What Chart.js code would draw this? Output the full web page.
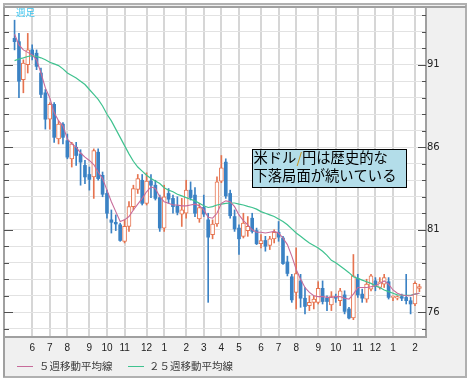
<!DOCTYPE html>
<html><head><meta charset="utf-8">
<script src="https://cdn.jsdelivr.net/npm/chart.js@4.4.0/dist/chart.umd.min.js"></script>
<style>html,body{margin:0;padding:0;background:#fff;}canvas{display:block;}</style>
</head><body>
<canvas id="c" width="469" height="382"></canvas>
<script>
// ---- data (weekly candles) ----
const opens = [
 92.6,92.4,90.1,91.0,91.9,91.7,90.5,89.3,87.7,88.6,
 86.5,87.4,86.4,85.3,86.0,85.6,84.9,84.35,84.2,85.7,
 84.3,83.2,81.6,81.45,81.3,80.3,81.2,82.4,83.45,84.0,
 82.6,83.95,83.7,82.95,81.1,83.2,82.9,82.45,81.95,82.0,
 83.4,83.1,81.65,82.35,81.6,80.7,81.35,83.95,85.1,83.2,
 81.8,81.1,80.6,80.95,81.7,80.95,80.15,80.35,80.05,80.45,
 80.85,80.5,79.05,78.15,77.2,77.9,76.85,76.4,76.6,76.6,
 77.45,76.85,76.45,76.95,76.7,77.05,76.2,75.65,78.05,77.1,
 76.8,77.4,77.9,77.5,77.7,77.85,76.9,76.85,76.95,76.9,
 76.7,76.5,77.45];
const highs = [
 93.7,92.9,91.3,92.9,92.2,91.9,90.8,89.5,88.7,88.7,
 87.6,87.5,86.8,86.3,86.3,85.85,85.2,84.8,85.9,85.9,
 84.5,83.4,82.2,81.9,81.4,81.6,82.7,83.7,84.35,84.35,
 84.45,84.35,84.0,83.1,83.7,83.5,83.1,83.0,82.9,84.0,
 83.9,83.55,82.6,83.1,82.0,81.6,84.2,85.5,85.3,83.4,
 82.2,81.3,82.0,81.8,82.0,81.1,80.7,80.6,80.6,81.0,
 81.5,80.6,79.4,78.3,79.9,78.3,77.5,77.0,77.0,77.85,
 77.9,77.0,77.25,77.1,77.45,77.3,76.3,79.5,78.3,77.4,
 78.0,78.3,78.1,78.1,78.3,78.1,77.0,77.0,77.1,78.3,
 76.9,77.85,77.7];
const lows = [
 91.9,89.0,89.3,90.5,91.3,90.7,89.0,87.1,87.1,86.3,
 86.2,86.2,85.3,84.8,84.9,83.7,83.8,83.4,82.9,84.0,
 83.0,81.7,80.8,80.95,80.3,80.2,80.9,82.2,83.2,82.5,
 82.5,82.95,82.8,80.9,80.9,82.6,82.0,81.9,81.2,81.7,
 82.8,81.8,81.45,81.8,76.6,80.45,81.2,83.85,82.9,81.7,
 80.9,79.5,80.5,80.6,80.8,80.1,79.9,79.7,79.8,80.2,
 80.3,78.9,78.2,76.6,76.2,76.3,75.9,76.1,76.2,76.5,
 76.5,76.1,76.1,76.6,76.4,75.9,75.6,75.55,76.9,76.6,
 76.6,77.3,77.3,77.4,77.5,76.8,76.7,76.75,76.7,76.5,
 75.9,76.4,77.25];
const closes = [
 92.4,90.0,91.1,91.9,91.6,90.9,89.2,87.7,88.6,86.6,
 87.4,86.6,85.4,86.2,85.5,85.1,84.2,84.05,85.8,84.1,
 83.15,82.0,81.45,81.35,80.35,81.2,82.4,83.5,84.1,82.6,
 83.95,83.7,82.9,81.1,83.0,82.85,82.4,82.05,82.2,83.4,
 82.95,82.0,82.35,81.95,80.55,81.35,83.9,84.75,83.05,81.85,
 81.05,80.45,81.4,81.2,80.9,80.15,80.35,80.0,80.45,80.85,
 80.55,78.95,78.35,76.75,78.35,76.85,76.35,76.6,76.8,77.45,
 76.65,76.65,76.95,76.85,77.3,76.05,75.65,78.2,77.05,76.85,
 77.7,78.2,77.55,77.85,78.1,76.9,76.95,76.95,76.85,76.7,
 76.5,77.75,77.55];
const ma5 = [
 92.85,92.2,91.9,91.75,91.6,91.3,90.5,89.6,89.0,88.1,
 87.6,87.3,86.5,86.2,86.0,85.65,85.4,85.2,84.95,84.5,
 84.1,83.4,82.7,82.1,81.5,81.6,81.8,82.2,82.55,82.9,
 83.3,83.6,83.5,83.0,82.7,82.6,82.5,82.5,82.45,82.45,
 82.5,82.55,82.45,82.2,81.75,81.7,82.0,82.6,82.75,82.7,
 82.4,81.9,81.55,81.3,81.0,80.85,80.85,80.8,80.85,80.9,
 80.8,80.5,80.1,79.4,78.6,78.0,77.5,77.2,77.0,76.95,
 76.95,76.9,76.9,76.95,76.95,76.85,76.8,77.1,77.5,77.5,
 77.5,77.55,77.6,77.75,77.9,77.7,77.35,77.15,77.05,77.0,
 77.0,77.1,77.15];
const ma25 = [
 91.25,91.35,91.42,91.5,91.55,91.5,91.42,91.3,91.15,91.05,
 90.95,90.75,90.5,90.35,90.2,90.0,89.8,89.5,89.2,88.9,
 88.5,88.0,87.6,87.1,86.6,86.1,85.6,85.15,84.8,84.55,
 84.3,84.1,83.95,83.8,83.55,83.4,83.3,83.15,83.05,82.95,
 82.85,82.75,82.6,82.45,82.35,82.4,82.5,82.55,82.6,82.62,
 82.62,82.55,82.5,82.42,82.35,82.25,82.1,82.0,81.9,81.8,
 81.65,81.5,81.3,81.05,80.8,80.6,80.4,80.2,80.05,79.9,
 79.7,79.45,79.15,79.0,78.8,78.6,78.4,78.15,78.05,77.95,
 77.85,77.75,77.6,77.5,77.35,77.25,77.15,77.05,77.03,77.02,
 77.03,77.1,77.15];
// month ticks: week index of the first week of each month, and its label
const monthTickWeeks = [4,8,12,17,21,25,30,34,39,43,47,51,56,60,64,69,73,78,82,86,91];
const monthLabels = ['6','7','8','9','10','11','12','1','2','3','4','5','6','7','8','9','10','11','12','1','2'];
const yTickValues = [75,76,77,78,79,80,81,82,83,84,85,86,87,88,89,90,91,92,93,94];
const yLabelValues = [76,81,86,91];
const seriesNames = ['５週移動平均線','２５週移動平均線'];
const noteLines = [['米ドル','/','円は歴史的な'],['下落局面が続いている']];
const periodLabel = '週足';

// ---- styles ----
const UP = '#e6734f', DOWN = '#3b82c4', C_MA5 = '#c76b9a', C_MA25 = '#3fc28f';
const isUp = i => closes[i] >= opens[i];
const idx = closes.map((_, i) => i);

const wickData = idx.map(i => ({x: i, y: [lows[i], highs[i]]}));
const upBody = idx.filter(isUp).map(i => ({x: i, y: [opens[i], closes[i]]}));
const downBody = idx.filter(i => !isUp(i)).map(i => ({x: i, y: [opens[i], closes[i]]}));

const deco = {
  id: 'deco',
  beforeDraw(chart) {
    const {ctx, chartArea: a} = chart;
    ctx.save();
    ctx.fillStyle = '#ffffff'; ctx.fillRect(0, 0, chart.width, chart.height);
    ctx.fillStyle = '#f0f0f0'; ctx.fillRect(4, 4, 462, 373);
    ctx.strokeStyle = '#b0b0b0'; ctx.lineWidth = 2; ctx.strokeRect(4, 4, 462, 373);
    ctx.fillStyle = '#ffffff'; ctx.fillRect(a.left, a.top, a.right - a.left, a.bottom - a.top);
    ctx.restore();
  },
  afterDraw(chart) {
    const {ctx, chartArea: a} = chart;
    const ys = chart.scales.y;
    ctx.save();
    // top and left plot borders
    ctx.strokeStyle = '#a0a0a0'; ctx.lineWidth = 2;
    ctx.beginPath(); ctx.moveTo(a.left, a.top); ctx.lineTo(466, a.top); ctx.stroke();
    ctx.beginPath(); ctx.moveTo(a.left, a.top); ctx.lineTo(a.left, 377); ctx.stroke();
    // inner tick marks
    ctx.strokeStyle = '#505050'; ctx.lineWidth = 1;
    yTickValues.forEach(v => {
      const py = Math.round(ys.getPixelForValue(v)) + 0.5;
      const major = yLabelValues.includes(v);
      ctx.beginPath();
      ctx.moveTo(a.right - (major ? 8 : 4), py); ctx.lineTo(a.right, py);
      ctx.moveTo(a.left, py); ctx.lineTo(a.left + (major ? 9 : 5), py);
      ctx.stroke();
    });
    // period label
    ctx.fillStyle = '#3cc4ee';
    ctx.font = '9.5px "Noto Sans CJK JP"';
    ctx.textBaseline = 'middle'; ctx.textAlign = 'left';
    ctx.fillText(periodLabel, 16, 12.5);
    // note box
    ctx.fillStyle = '#b3dde9';
    ctx.fillRect(252, 149, 155, 39);
    ctx.strokeStyle = '#000'; ctx.lineWidth = 1;
    ctx.strokeRect(252.5, 149.5, 154, 38);
    ctx.font = '14.3px "Noto Sans CJK JP"';
    const lineY = [158, 176];
    noteLines.forEach((parts, li) => {
      let x = 253.5;
      parts.forEach(p => {
        ctx.fillStyle = p === '/' ? '#c8961e' : '#000';
        ctx.fillText(p, x, lineY[li]);
        x += ctx.measureText(p).width;
      });
    });
    // legend
    ctx.font = '10.5px "Noto Sans CJK JP"';
    const lg = [[17, 33, 39, C_MA5], [128, 144, 149, C_MA25]];
    lg.forEach((L, k) => {
      ctx.strokeStyle = L[3]; ctx.lineWidth = 1;
      ctx.beginPath(); ctx.moveTo(L[0], 366.5); ctx.lineTo(L[1], 366.5); ctx.stroke();
      ctx.fillStyle = '#3a3a3a';
      ctx.fillText(seriesNames[k], L[2], 366);
    });
    ctx.restore();
  }
};

new Chart(document.getElementById('c'), {
  type: 'bar',
  data: {
    datasets: [
      {type: 'bar', label: 'wick', data: wickData, grouped: false, barThickness: 1, order: 4,
       backgroundColor: c => isUp(c.raw ? c.raw.x : 0) ? UP : DOWN, borderWidth: 0},
      {type: 'bar', label: 'up', data: upBody, grouped: false, barThickness: 4, order: 3, minBarLength: 1,
       backgroundColor: '#ffffff', borderColor: UP, borderWidth: 1, borderSkipped: false},
      {type: 'bar', label: 'down', data: downBody, grouped: false, barThickness: 3, order: 3, minBarLength: 1,
       backgroundColor: DOWN, borderWidth: 0},
      {type: 'line', label: seriesNames[1], data: ma25.map((v, i) => ({x: i, y: v})),
       borderColor: C_MA25, borderWidth: 1.2, pointRadius: 0, tension: 0, order: 2},
      {type: 'line', label: seriesNames[0], data: ma5.map((v, i) => ({x: i, y: v})),
       borderColor: C_MA5, borderWidth: 1.1, pointRadius: 0, tension: 0, order: 1}
    ]
  },
  options: {
    responsive: false, animation: false, devicePixelRatio: 1,
    layout: {padding: {left: 4, top: 4, right: 0, bottom: 0}},
    plugins: {legend: {display: false}, tooltip: {enabled: false}},
    scales: {
      x: {
        type: 'linear', min: -2.4, max: 93.5, offset: false,
        afterBuildTicks: s => { s.ticks = monthTickWeeks.map(v => ({value: v})); },
        afterFit: s => { s.height = 45; },
        ticks: {callback: (v, i) => monthLabels[i], autoSkip: false, maxRotation: 0, padding: 5,
                color: '#222', font: {family: 'Liberation Sans', size: 10}},
        grid: {color: '#d6d6d6', lineWidth: 2, drawTicks: false, offset: false},
        border: {color: '#a0a0a0', width: 2}
      },
      y: {
        position: 'right', min: 74.5, max: 94.5,
        afterBuildTicks: s => { s.ticks = yTickValues.map(v => ({value: v})); },
        afterFit: s => { s.width = 43; },
        ticks: {callback: v => yLabelValues.includes(v) ? String(v) : '', autoSkip: false, padding: 1,
                color: '#222', font: {family: 'DejaVu Sans', size: 10}},
        grid: {color: '#e2e2e2', lineWidth: 1, drawTicks: false},
        border: {color: '#a0a0a0', width: 2}
      }
    }
  },
  plugins: [deco]
});
</script>
</body></html>
